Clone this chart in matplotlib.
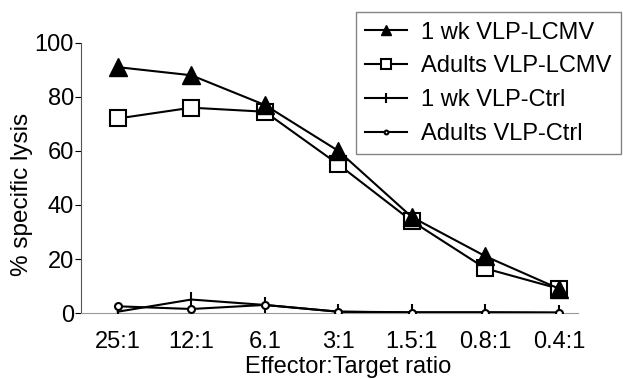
import matplotlib
matplotlib.use("Agg")
import matplotlib.pyplot as plt

# =========== Data ============

ratios = ["25:1", "12:1", "6.1", "3:1", "1.5:1", "0.8:1", "0.4:1"]
wk1_lcmv = [91, 88, 77, 60, 35.5, 21, 9]
adult_lcmv = [72, 76, 74.5, 55, 34, 16.5, 9]
wk1_ctrl = [0.5, 5, 3, 0.5, 0.3, 0.3, 0.2]
adult_ctrl = [2.5, 1.5, 3, 0.5, 0.2, 0.2, 0.1]

# =========== Plot ============

plt.rcParams["font.family"] = ["Liberation Sans", "DejaVu Sans"]

fig = plt.figure(figsize=(6.23, 3.79), dpi=100)
ax = fig.add_axes([0.130, 0.174, 0.798, 0.713])

x = range(len(ratios))
lw = 1.5
ax.plot(x, adult_lcmv, color="black", lw=lw, marker="s", ms=12,
        mfc="white", mec="black", mew=1.5, label="Adults VLP-LCMV", zorder=3)
ax.plot(x, wk1_lcmv, color="black", lw=lw, marker="^", ms=13,
        mfc="black", mec="black", label="1 wk VLP-LCMV", zorder=4)
ax.plot(x, wk1_ctrl, color="black", lw=lw, marker="|", ms=12,
        mew=1.5, label="1 wk VLP-Ctrl", zorder=3)
ax.plot(x, adult_ctrl, color="black", lw=lw, marker="o", ms=5,
        mfc="white", mec="black", mew=1.5, label="Adults VLP-Ctrl", zorder=3)

ax.set_xlim(-0.5, 6.26)
ax.set_ylim(0, 100)
ax.set_yticks(range(0, 101, 20))
ax.set_xticks(list(x))
ax.set_xticklabels(ratios)
ax.tick_params(axis="x", length=0, labelsize=17, pad=13)
ax.tick_params(axis="y", length=4, direction="out", labelsize=17, pad=1)

for s in ["top", "right"]:
    ax.spines[s].set_visible(False)
ax.spines["left"].set_linewidth(0.8)
ax.spines["left"].set_color("#555555")
ax.spines["bottom"].set_color("#999999")
ax.spines["bottom"].set_linestyle((0, (4, 1)))
ax.spines["bottom"].set_linewidth(0.8)

ax.set_ylabel("% specific lysis", fontsize=17.5)
ax.yaxis.set_label_coords(-0.097, 0.44)
ax.set_xlabel("Effector:Target ratio", fontsize=17)
ax.xaxis.set_label_coords(0.537, -0.16)

handles, labels = ax.get_legend_handles_labels()
order = [1, 0, 2, 3]
leg = fig.legend([handles[i] for i in order], [labels[i] for i in order],
                 loc="upper right", bbox_to_anchor=(0.996, 0.968),
                 fontsize=17, markerscale=0.55, handlelength=1.75,
                 labelspacing=0.5, fancybox=False, borderaxespad=0,
                 handletextpad=0.6, borderpad=0.4)
leg.get_frame().set_edgecolor("#666666")
leg.get_frame().set_linewidth(1.0)

fig.savefig("out.png", dpi=100)
